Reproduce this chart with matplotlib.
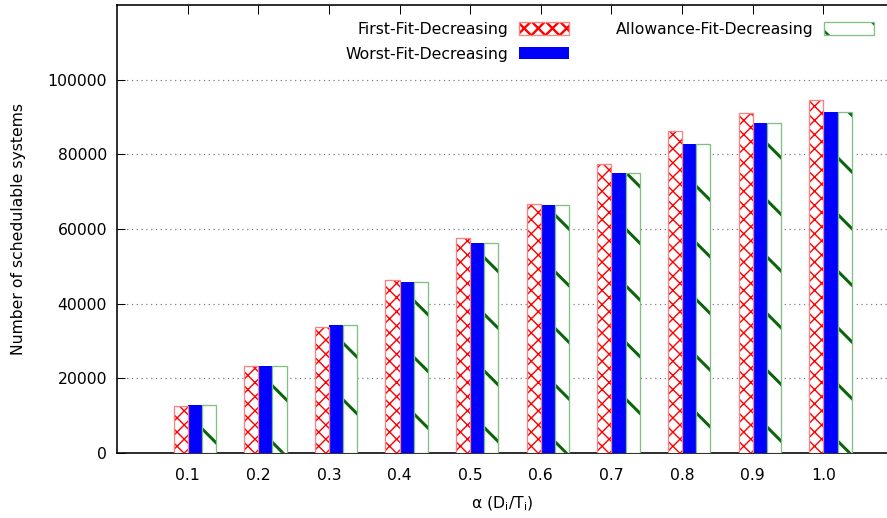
import numpy as np
import matplotlib
matplotlib.use('Agg')
import matplotlib.pyplot as plt
from matplotlib.patches import Patch
from matplotlib.legend_handler import HandlerTuple

# values
alpha_labels = ['0.1', '0.2', '0.3', '0.4', '0.5', '0.6', '0.7', '0.8', '0.9', '1.0']
first_fit = [12600, 23300, 33800, 46300, 57500, 66700, 77400, 86200, 91000, 94500]
worst_fit = [12900, 23200, 34400, 45700, 56200, 66400, 75100, 82900, 88400, 91400]
allowance_fit = [12900, 23200, 34400, 45700, 56200, 66400, 75100, 82900, 88400, 91400]
series_names = ['First-Fit-Decreasing', 'Worst-Fit-Decreasing', 'Allowance-Fit-Decreasing']

DPI = 170
FS = 6.6


def px(v):
	""" pixels -> points at the figure dpi """
	return v * 72.0 / DPI


def hatched_bars(ax, x, h, w, hatch, hcolor, bcolor, hlw):
	with plt.rc_context({'hatch.linewidth': hlw}):
		fill = ax.bar(x, h, w, color='white', edgecolor=hcolor, hatch=hatch,
			linewidth=0, zorder=3)
	for p in fill:
		if hasattr(p, 'set_hatch_linewidth'):
			p.set_hatch_linewidth(hlw)
	ax.bar(x, h, w, fill=False, edgecolor=bcolor, linewidth=px(1.3), zorder=4)
	return fill


def legend_patch(hatch, hcolor, bcolor, hlw):
	p = Patch(facecolor='white', edgecolor=hcolor, hatch=hatch, linewidth=0)
	if hasattr(p, 'set_hatch_linewidth'):
		p.set_hatch_linewidth(hlw)
	return (p, Patch(facecolor='none', edgecolor=bcolor, linewidth=px(1.3)))


def main():
	plt.rcParams['font.family'] = 'DejaVu Sans'
	fig = plt.figure(figsize=(887 / DPI, 518 / DPI), dpi=DPI)
	ax = fig.add_axes([117 / 887, 1 - 453 / 518, (887 - 117) / 887, (453 - 5) / 518])

	x = np.arange(len(alpha_labels))
	w = 0.2

	hatched_bars(ax, x - 0.1, first_fit, w, 'xxxx', '#ff0000', '#ff8080', px(1.4))
	ax.bar(x + 0.1, worst_fit, w, color='#0000ff', linewidth=0, zorder=3)
	hatched_bars(ax, x + 0.3, allowance_fit, w, '\\', '#0a640a', '#80c080', px(3.0))

	ax.set_xlim(-1, 9.9)
	ax.set_ylim(0, 120000)
	ax.set_xticks(x, alpha_labels)
	ax.set_yticks(np.arange(0, 100001, 20000))
	ax.tick_params(axis='x', direction='in', top=True, bottom=True, length=px(9),
		width=px(1), labelsize=FS, pad=px(15))
	ax.tick_params(axis='y', direction='in', left=True, right=False, length=px(8),
		width=px(1), labelsize=FS, pad=px(10))

	for s in ['left', 'bottom', 'top']:
		ax.spines[s].set_linewidth(px(1.6))
	ax.spines['right'].set_visible(False)

	ax.yaxis.grid(True, linestyle=(0, (1, 3)), color='#777777', linewidth=px(1.2))
	ax.set_axisbelow(True)

	ax.set_xlabel(r'α (D$\mathregular{_i}$/T$\mathregular{_i}$)', fontsize=FS, labelpad=px(12))
	ax.set_ylabel('Number of schedulable systems', fontsize=FS, labelpad=px(21))

	with plt.rc_context({'hatch.linewidth': px(1.4)}):
		h_ffd = legend_patch('xxxx', '#ff0000', '#ff8080', px(1.4))
	h_wfd = Patch(facecolor='#0000ff', linewidth=0)
	with plt.rc_context({'hatch.linewidth': px(3.0)}):
		h_afd = legend_patch('\\', '#0a640a', '#80c080', px(3.0))
	ax.legend([h_ffd, h_wfd, h_afd], series_names, ncol=2, markerfirst=False,
		frameon=False, fontsize=FS, loc='upper right',
		bbox_to_anchor=(874 / 887, 1 - 22 / 518), bbox_transform=fig.transFigure,
		borderpad=0, borderaxespad=0, handlelength=3.2, handleheight=0.85,
		handletextpad=0.7, columnspacing=3.0, labelspacing=0.62,
		handler_map={tuple: HandlerTuple(ndivide=1, pad=0)})

	fig.savefig('out.png', dpi=DPI)


if __name__ == '__main__':
	main()
